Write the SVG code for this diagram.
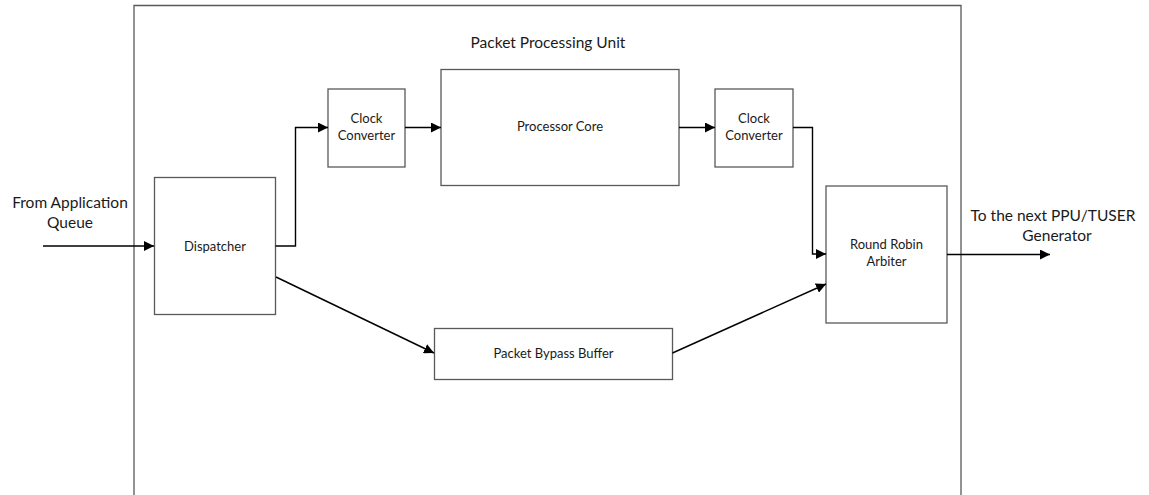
<svg xmlns="http://www.w3.org/2000/svg" width="1149" height="495" viewBox="0 0 1149 495">
  <style>
    .box { fill: #ffffff; stroke: #595959; stroke-width: 1.3; }
    .frame { fill: none; stroke: #595959; stroke-width: 1.3; }
    .wire { fill: none; stroke: #000000; stroke-width: 1.4; }
    text { font-family: Lato, "Open Sans", "Liberation Sans", sans-serif; fill: #1a1a1a; text-anchor: middle; }
    .lbl { font-size: 13px; }
    .ext { font-size: 15.5px; }
    .ttl { font-size: 15.5px; }
  </style>
  <defs>
    <marker id="arrow" viewBox="0 0 10 10" refX="10" refY="5" markerWidth="10" markerHeight="10" markerUnits="userSpaceOnUse" orient="auto">
      <path d="M0,0 L10,5 L0,10 Z" fill="#000000"/>
    </marker>
  </defs>

  <rect width="1149" height="495" fill="#ffffff"/>

  <!-- enclosing unit, open at the bottom -->
  <g id="ppu">
    <path class="frame" d="M134,500 V5.5 H961 V500"/>
    <text class="ttl" x="548" y="48">Packet Processing Unit</text>
  </g>

  <g id="dispatcher">
    <rect class="box" x="154.5" y="177.5" width="121" height="137"/>
    <text class="lbl" x="215" y="251">Dispatcher</text>
  </g>

  <g id="clock-converter-in">
    <rect class="box" x="328" y="89" width="77" height="78"/>
    <text class="lbl" x="366.5" y="123">Clock</text>
    <text class="lbl" x="366.5" y="140">Converter</text>
  </g>

  <g id="processor-core">
    <rect class="box" x="441" y="69.5" width="238" height="116"/>
    <text class="lbl" x="560" y="131">Processor Core</text>
  </g>

  <g id="clock-converter-out">
    <rect class="box" x="715" y="89" width="78" height="78"/>
    <text class="lbl" x="754" y="123">Clock</text>
    <text class="lbl" x="754" y="140">Converter</text>
  </g>

  <g id="round-robin-arbiter">
    <rect class="box" x="826" y="186" width="121" height="137"/>
    <text class="lbl" x="886.5" y="249">Round Robin</text>
    <text class="lbl" x="886.5" y="266">Arbiter</text>
  </g>

  <g id="packet-bypass-buffer">
    <rect class="box" x="434.5" y="328.5" width="238" height="51"/>
    <text class="lbl" x="553.5" y="358">Packet Bypass Buffer</text>
  </g>

  <g id="input-label">
    <text class="ext" x="70" y="208">From Application</text>
    <text class="ext" x="70" y="228">Queue</text>
  </g>

  <g id="output-label">
    <text class="ext" x="1053" y="221">To the next PPU/TUSER</text>
    <text class="ext" x="1057" y="241">Generator</text>
  </g>

  <g id="connectors">
    <path class="wire" marker-end="url(#arrow)" d="M43,246 H154"/>
    <path class="wire" marker-end="url(#arrow)" d="M275.5,246 H295.5 V127.5 H328"/>
    <path class="wire" marker-end="url(#arrow)" d="M405,127.5 H441"/>
    <path class="wire" marker-end="url(#arrow)" d="M679,127.5 H715"/>
    <path class="wire" marker-end="url(#arrow)" d="M793,127.5 H812.5 V254 H826"/>
    <path class="wire" marker-end="url(#arrow)" d="M276,277 L434,353"/>
    <path class="wire" marker-end="url(#arrow)" d="M672.5,353 L826,284"/>
    <path class="wire" marker-end="url(#arrow)" d="M947,254.5 H1050"/>
  </g>
</svg>
